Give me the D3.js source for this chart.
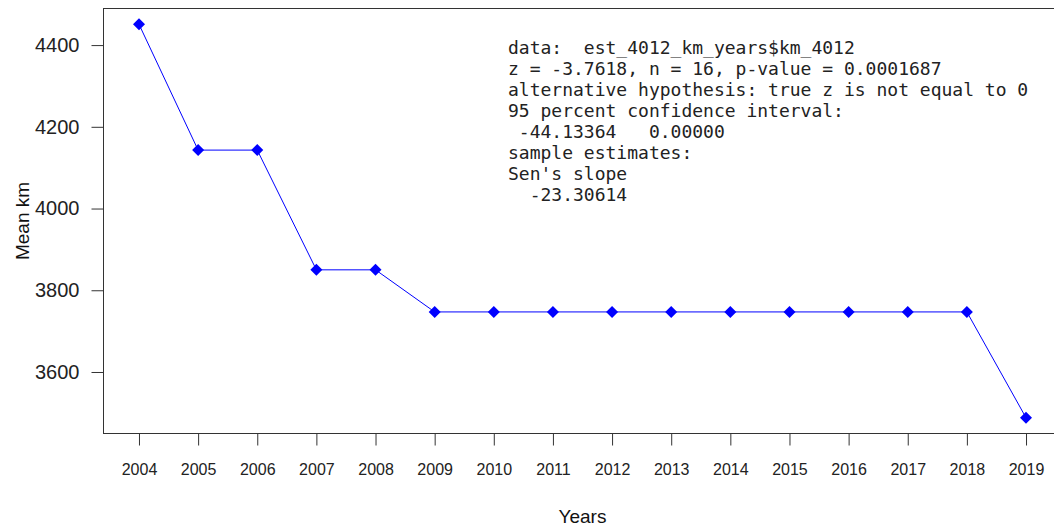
<!DOCTYPE html>
<html>
<head>
<meta charset="utf-8">
<script src="https://cdn.jsdelivr.net/npm/d3@7"></script>
<style>
  body { margin: 0; background: #fff; }
  svg { display: block; }
</style>
</head>
<body>
<svg id="chart" width="1054" height="528"></svg>
<script>
const years = [2004, 2005, 2006, 2007, 2008, 2009, 2010, 2011, 2012, 2013, 2014, 2015, 2016, 2017, 2018, 2019];
const meanKm = [4451, 4143, 4143, 3850, 3850, 3747, 3747, 3747, 3747, 3747, 3747, 3747, 3747, 3747, 3747, 3488];
const yTicks = [3600, 3800, 4000, 4200, 4400];
const testLines = [
    'data:  est_4012_km_years$km_4012',
    'z = -3.7618, n = 16, p-value = 0.0001687',
    'alternative hypothesis: true z is not equal to 0',
    '95 percent confidence interval:',
    ' -44.13364   0.00000',
    'sample estimates:',
    "Sen's slope",
    '  -23.30614'
];

const svg = d3.select('#chart');
const plot = { left: 103.5, right: 1061.5, top: 8.5, bottom: 433.5 };

// R style 4% padding on both axes
const xPad = (d3.max(years) - d3.min(years)) * 0.04;
const yPad = (d3.max(meanKm) - d3.min(meanKm)) * 0.04;

const xScale = d3.scaleLinear()
    .domain([d3.min(years) - xPad, d3.max(years) + xPad])
    .range([plot.left, plot.right]);
const yScale = d3.scaleLinear()
    .domain([d3.min(meanKm) - yPad, d3.max(meanKm) + yPad])
    .range([plot.bottom, plot.top]);

// x axis
const xAxis = svg.append('g')
    .attr('transform', `translate(0,${plot.bottom})`)
    .call(d3.axisBottom(xScale).tickValues(years).tickFormat(d3.format('d')).tickSize(12).tickPadding(18));
xAxis.select('.domain').remove();
xAxis.selectAll('.tick line').attr('stroke', '#333');
xAxis.selectAll('.tick text')
    .attr('fill', '#222')
    .style('font-family', 'Liberation Sans, Arial, sans-serif')
    .style('font-size', '16px');

// y axis
const yAxis = svg.append('g')
    .attr('transform', `translate(${plot.left},0)`)
    .call(d3.axisLeft(yScale).tickValues(yTicks).tickFormat(d3.format('d')).tickSize(12).tickPadding(12));
yAxis.select('.domain').remove();
yAxis.selectAll('.tick line').attr('stroke', '#333');
yAxis.selectAll('.tick text')
    .attr('fill', '#222')
    .style('font-family', 'Liberation Sans, Arial, sans-serif')
    .style('font-size', '20px');

// box
svg.append('rect')
    .attr('x', plot.left)
    .attr('y', plot.top)
    .attr('width', plot.right - plot.left)
    .attr('height', plot.bottom - plot.top)
    .attr('fill', 'none')
    .attr('stroke', '#333')
    .attr('stroke-width', 1);

// axis titles
svg.append('text')
    .attr('x', (plot.left + plot.right) / 2)
    .attr('y', 523)
    .attr('text-anchor', 'middle')
    .style('font-family', 'Liberation Sans, Arial, sans-serif')
    .style('font-size', '19px')
    .attr('fill', '#111')
    .text('Years');

svg.append('text')
    .attr('transform', `translate(29,${(plot.top + plot.bottom) / 2}) rotate(-90)`)
    .attr('text-anchor', 'middle')
    .style('font-family', 'Liberation Sans, Arial, sans-serif')
    .style('font-size', '19px')
    .attr('fill', '#111')
    .text('Mean km');

// series
const data = years.map((y, i) => [y, meanKm[i]]);
const line = d3.line()
    .x(d => xScale(d[0]))
    .y(d => yScale(d[1]));

svg.append('path')
    .datum(data)
    .attr('fill', 'none')
    .attr('stroke', '#0000ff')
    .attr('stroke-width', 1)
    .attr('d', line);

svg.selectAll('.pt')
    .data(data)
    .enter()
    .append('path')
    .attr('class', 'pt')
    .attr('transform', d => `translate(${xScale(d[0])},${yScale(d[1])})`)
    .attr('d', 'M0,-6L6,0L0,6L-6,0Z')
    .attr('fill', '#0000ff');

// test summary text
svg.append('g')
    .selectAll('text')
    .data(testLines)
    .enter()
    .append('text')
    .attr('x', 508)
    .attr('y', (d, i) => 54 + i * 21)
    .attr('xml:space', 'preserve')
    .style('white-space', 'pre')
    .style('font-family', 'DejaVu Sans Mono, monospace')
    .style('font-size', '18px')
    .attr('fill', '#222')
    .text(d => d);
</script>
</body>
</html>
